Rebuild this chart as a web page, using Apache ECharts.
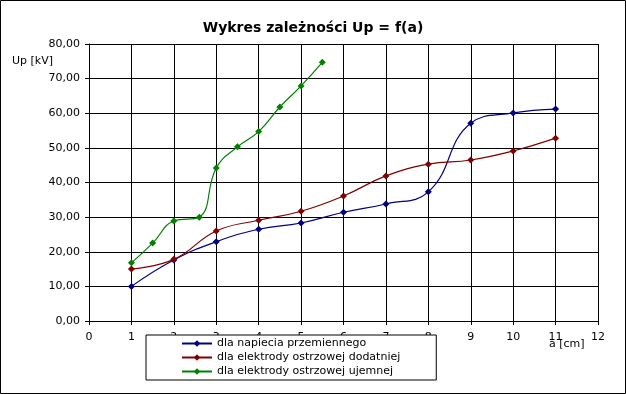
<!DOCTYPE html>
<html><head><meta charset="utf-8">
<script src="https://cdn.jsdelivr.net/npm/echarts@6/dist/echarts.min.js"></script>
<style>html,body{margin:0;padding:0;background:#fff}#c{width:626px;height:394px}</style>
</head><body><div id="c"></div>
<script>
const titleText = 'Wykres zależności Up = f(a)';
const yName = 'Up [kV]';
const xName = 'a [cm]';
const seriesNames = ['dla napiecia przemiennego', 'dla elektrody ostrzowej dodatniej', 'dla elektrody ostrzowej ujemnej'];
const xBlue = [1, 2, 3, 4, 5, 6, 7, 8, 9, 10, 11];
const blueVals = [10.0, 17.6, 22.9, 26.5, 28.3, 31.4, 33.8, 37.3, 57.1, 60.1, 61.2];
const xRed = [1, 2, 3, 4, 5, 6, 7, 8, 9, 10, 11];
const redVals = [15.0, 17.8, 26.0, 29.1, 31.7, 36.1, 41.9, 45.3, 46.5, 49.1, 52.8];
const xGreen = [1, 1.5, 2, 2.6, 3, 3.5, 4, 4.5, 5, 5.5];
const greenVals = [16.8, 22.5, 28.9, 30.0, 44.2, 50.3, 54.7, 61.8, 67.9, 74.7];
const colors = ['#000080', '#800000', '#008000'];

const zip = (xs, ys) => xs.map((x, i) => [x, ys[i]]);
const font = 'DejaVu Sans';
const chart = echarts.init(document.getElementById('c'), null, {renderer: 'canvas'});
const mk = (name, data, color) => ({
  name, type: 'line', data, smooth: 0.45, symbol: 'diamond', symbolSize: 7,
  lineStyle: {color, width: 1.2}, itemStyle: {color}, z: 3
});
chart.setOption({
  backgroundColor: '#fff',
  animation: false,
  textStyle: {fontFamily: font},
  title: {text: titleText, left: 'center', top: 16,
    textStyle: {fontFamily: font, fontSize: 14, fontWeight: 'bold', color: '#000'}},
  grid: {left: 89, right: 28, top: 44, bottom: 73},
  xAxis: {type: 'value', min: 0, max: 12, interval: 1,
    axisLine: {onZero: false, lineStyle: {color: '#000', width: 1}},
    axisTick: {show: true, length: 4, lineStyle: {color: '#000'}},
    axisLabel: {color: '#000', fontSize: 11, fontFamily: font, margin: 11},
    splitLine: {show: true, lineStyle: {color: '#000', width: 1}}},
  yAxis: {type: 'value', min: 0, max: 80, interval: 10,
    axisLine: {show: true, lineStyle: {color: '#000', width: 1}},
    axisTick: {show: true, length: 4, lineStyle: {color: '#000'}},
    axisLabel: {color: '#000', fontSize: 11, fontFamily: font, margin: 9,
      formatter: v => v.toFixed(2).replace('.', ',')},
    splitLine: {show: true, lineStyle: {color: '#000', width: 1}}},
  legend: {orient: 'vertical', left: 146, top: 335, data: seriesNames,
    backgroundColor: '#fff', borderColor: '#000', borderWidth: 1, borderRadius: 0,
    padding: [2, 36, 2, 35], itemGap: 1, itemWidth: 30, itemHeight: 8, z: 10,
    textStyle: {fontFamily: font, fontSize: 11, color: '#000', lineHeight: 13}},
  graphic: [
    {type: 'rect', shape: {x: 0.5, y: 0.5, width: 625, height: 393}, style: {fill: null, stroke: '#000', lineWidth: 1}, z: 100},
    {type: 'text', left: 12, top: 56, style: {text: yName, font: '11px "DejaVu Sans"', fill: '#000'}},
    {type: 'text', left: 549, top: 339, style: {text: xName, font: '11px "DejaVu Sans"', fill: '#000'}, z: 100}
  ],
  series: [
    mk(seriesNames[0], zip(xBlue, blueVals), colors[0]),
    mk(seriesNames[1], zip(xRed, redVals), colors[1]),
    mk(seriesNames[2], zip(xGreen, greenVals), colors[2])
  ]
});
</script></body></html>
